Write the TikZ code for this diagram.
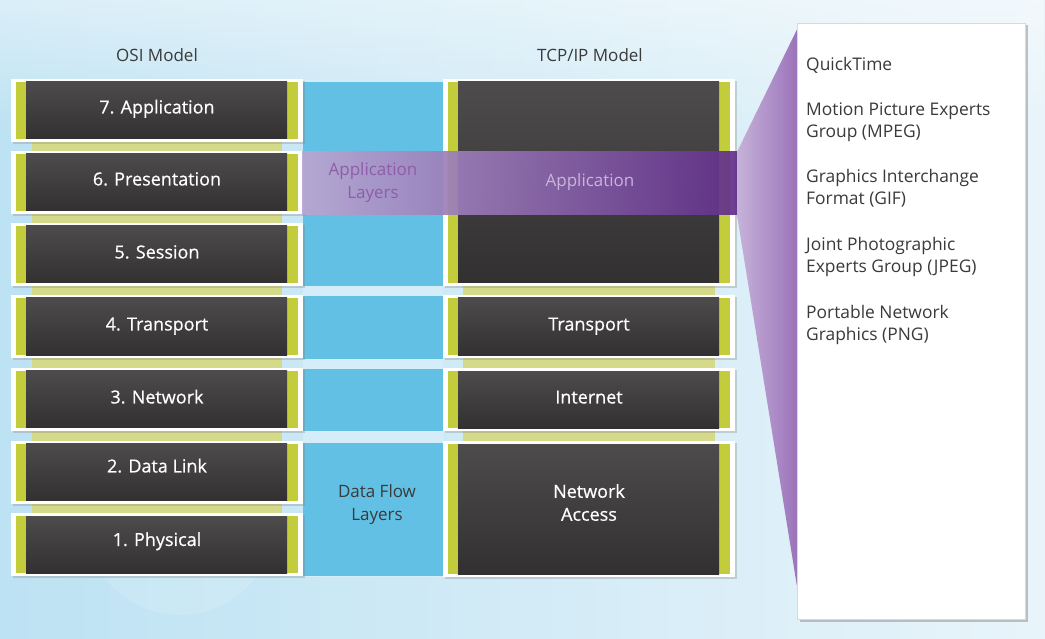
\documentclass[tikz,border=0pt]{standalone}
\usepackage{fontspec}
\setmainfont{Open Sans}
\newfontface\boxfont{Open Sans}[FakeBold=0.6]
\usetikzlibrary{shadows,fadings}
\definecolor{bgL}{HTML}{BDE2F3}
\definecolor{bgR}{HTML}{E8F4FA}
\definecolor{flowblue}{HTML}{62C0E4}
\definecolor{gaplight}{HTML}{D4EDF8}
\definecolor{limeg}{HTML}{C3CC3A}
\definecolor{connyel}{HTML}{D5D98A}
\definecolor{darktop}{HTML}{4D4B4C}
\definecolor{darkbot}{HTML}{323031}
\definecolor{purL}{HTML}{BBA7D2}
\definecolor{purR}{HTML}{62308A}
\definecolor{wedgeL}{HTML}{C6B2D9}
\definecolor{wedgeR}{HTML}{9C74BA}
\definecolor{txtgray}{HTML}{3A3A3A}
\definecolor{apptxt}{HTML}{8E5DA9}
\definecolor{applight}{HTML}{C9B4DD}
\tikzfading[name=topglow, top color=transparent!0, bottom color=transparent!100]
\pgfdeclarelayer{back}
\pgfsetlayers{back,main}
\begin{document}
\begin{tikzpicture}[x=1pt,y=-1pt,
  layerbox/.style={fill=white, inner sep=0pt, minimum width=292pt, minimum height=#1,
    text=white, font=\boxfont\fontsize{18}{22}\selectfont, align=center,
    text height=12.9pt, text depth=7pt,
    drop shadow={opacity=0.3, shadow xshift=1.5pt, shadow yshift=-2pt},
    path picture={
      \fill[limeg] ([xshift=5pt,yshift=-3pt]path picture bounding box.north west) rectangle ([xshift=15pt,yshift=3pt]path picture bounding box.south west);
      \fill[limeg] ([xshift=-16pt,yshift=-3pt]path picture bounding box.north east) rectangle ([xshift=-5pt,yshift=3pt]path picture bounding box.south east);
      \shade[top color=darktop, bottom color=darkbot] ([xshift=15pt,yshift=-3pt]path picture bounding box.north west) rectangle ([xshift=-16pt,yshift=3pt]path picture bounding box.south east);
    }},
  layerbox/.default=63pt,
  boxtext/.style={text=white, font=\boxfont\fontsize{18}{23}\selectfont, align=center, inner sep=0pt},
  title/.style={text=txtgray, font=\fontsize{17}{20}\selectfont, inner sep=0pt},
  midtext/.style={font=\fontsize{17}{23}\selectfont, align=center, inner sep=0pt},
  paneltext/.style={text=txtgray, font=\fontsize{17.4}{20}\selectfont, anchor=base west, inner sep=0pt},
  connstrip/.style={fill=connyel}
]
\useasboundingbox (0,0) rectangle (1045,639);
\begin{pgfonlayer}{back}
% background
\shade[left color=bgL, right color=bgR] (0,0) rectangle (1045,639);
\fill[white, opacity=0.45, path fading=topglow] (0,0) rectangle (1045,130);
\fill[white, opacity=0.12] (180,520) circle (95);
% flow band between the two models
\fill[gaplight] (303,80) rectangle (443,577);
\fill[flowblue] (303,82) rectangle (443,286);
\fill[flowblue] (303,296) rectangle (443,359);
\fill[flowblue] (303,369) rectangle (443,431);
\fill[flowblue] (303,443) rectangle (443,576);
\end{pgfonlayer}

% OSI layers
\node[layerbox] (o7) at (157,110.5) {7. Application};
\node[layerbox] (o6) at (157,182.5) {6. Presentation};
\node[layerbox, text depth=5pt] (o5) at (157,254.5) {5. Session};
\node[layerbox, text depth=5pt] (o4) at (157,326.5) {4. Transport};
\node[layerbox, text depth=4pt] (o3) at (157,399) {3. Network};
\node[layerbox, text depth=12pt] (o2) at (157,472) {2. Data Link};
\node[layerbox, text depth=10pt] (o1) at (157,544.5) {1. Physical};

% TCP/IP layers
\node[layerbox=207pt] (tapp) at (589,182.5) {};
\node[layerbox, text depth=5pt] (ttr) at (589,326.5) {Transport};
\node[layerbox, text depth=5pt] (tin) at (589,399.5) {Internet};
\node[layerbox=136pt] (tna) at (589,509) {};
\node[boxtext] (tnatxt) at (589,502.5) {Network\\Access};

% connector strips behind the stacks
\begin{pgfonlayer}{back}
\fill[connstrip] ([xshift=21pt]o7.south west) rectangle ([xshift=-21pt]o1.north east);
\fill[connstrip] ([xshift=20pt]tapp.south west) rectangle ([xshift=-20pt]tna.north east);
\end{pgfonlayer}

% titles
\node[title] (osititle) at (157,55) {OSI Model};
\node[title] (tcptitle) at (590,55) {TCP/IP Model};

% application band
\shade[left color=purL, right color=purR, opacity=0.93] (302,152) rectangle (737,215);
\coordinate (bandNE) at (737,152);
\coordinate (bandSE) at (737,215);

% right panel
\node[draw=black!15, fill=white, minimum width=228pt, minimum height=596pt, inner sep=0pt,
      drop shadow={opacity=0.45, shadow xshift=2.5pt, shadow yshift=-2.5pt}] (panel) at (911,321) {};
\shade[left color=wedgeL, right color=wedgeR] (bandNE) -- ([yshift=-7pt]panel.north west) -- ([yshift=34pt]panel.south west) -- (bandSE) -- cycle;

% band texts
\node[midtext, text=apptxt] (applayers) at (373,182.5) {Application\\Layers};
\node[midtext, text=applight, font=\fontsize{17}{20}\selectfont] (tapptxt) at (590,182.5) {Application};
\node[midtext, text=txtgray] (dataflow) at (377,504.5) {Data Flow\\Layers};

% panel texts
\node[paneltext] (p1) at (806,70.5) {QuickTime};
\node[paneltext] (p2a) at (806,115.5) {Motion Picture Experts};
\node[paneltext] (p2b) at (806,138) {Group (MPEG)};
\node[paneltext] (p3a) at (806,182.5) {Graphics Interchange};
\node[paneltext] (p3b) at (806,205) {Format (GIF)};
\node[paneltext] (p4a) at (806,250.5) {Joint Photographic};
\node[paneltext] (p4b) at (806,273) {Experts Group (JPEG)};
\node[paneltext] (p5a) at (806,318.5) {Portable Network};
\node[paneltext] (p5b) at (806,341) {Graphics (PNG)};
\end{tikzpicture}
\end{document}
